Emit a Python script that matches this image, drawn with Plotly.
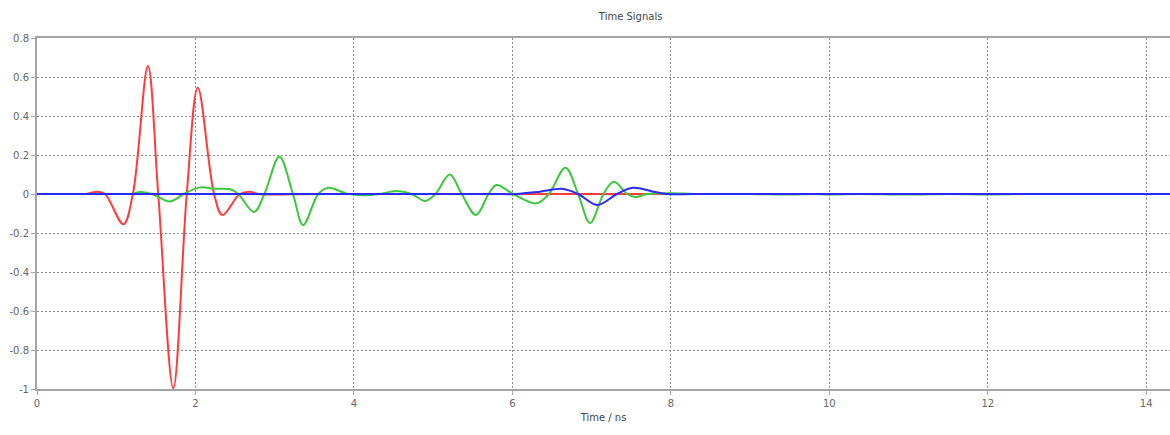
import plotly.graph_objects as go

# ---- data ----
red_t = [0.63, 0.77, 0.86, 1.09, 1.21, 1.40, 1.53, 1.72, 1.89, 2.03, 2.235, 2.34,
         2.56, 2.69, 2.79, 3.5, 5.0, 6.0, 7.0, 8.0, 9.0, 10.0, 11.0, 12.4]
red_y = [0.0, 0.012, 0.0, -0.155, 0.0, 0.656, 0.0, -0.996, 0.0, 0.545, 0.0, -0.108,
         0.0, 0.012, 0.0, 0.0, 0.0, 0.0, 0.0, 0.0, 0.0, 0.0, 0.0, 0.0]

green_t = [1.21, 1.30, 1.45, 1.68, 1.85, 2.06, 2.23, 2.44, 2.54, 2.74, 2.87, 3.06,
           3.23, 3.36, 3.55, 3.68, 3.91, 4.12, 4.33, 4.53, 4.73, 4.90, 5.03, 5.21,
           5.36, 5.54, 5.70, 5.80, 6.01, 6.30, 6.46, 6.67, 6.83, 6.98, 7.15, 7.28,
           7.45, 7.55, 7.70, 8.0, 8.3, 9.0, 9.45, 9.8, 10.0, 10.4, 11.0, 11.5,
           12.0, 12.4]
green_y = [0.0, 0.010, 0.0, -0.038, 0.0, 0.034, 0.027, 0.024, 0.0, -0.092, 0.0, 0.191,
           0.0, -0.159, 0.0, 0.032, 0.002, -0.007, 0.0, 0.015, 0.0, -0.036, 0.0, 0.100,
           0.0, -0.108, 0.0, 0.046, 0.0, -0.048, 0.0, 0.135, 0.0, -0.149, 0.0, 0.063,
           0.0, -0.016, 0.0, 0.004, 0.0, 0.0, -0.003, 0.0, -0.002, 0.0, -0.003, 0.0,
           -0.002, 0.0]

blue_t = [0.0, 5.7, 6.05, 6.35, 6.64, 6.83, 7.07, 7.32, 7.52, 7.78, 7.95, 8.3, 14.3]
blue_y = [0.0, 0.0, 0.0, 0.012, 0.026, 0.0, -0.056, 0.0, 0.032, 0.012, 0.0, 0.0, 0.0]

x_ticks = [0, 2, 4, 6, 8, 10, 12, 14]
x_tick_labels = ["0", "2", "4", "6", "8", "10", "12", "14"]
y_ticks = [0.8, 0.6, 0.4, 0.2, 0.0, -0.2, -0.4, -0.6, -0.8, -1.0]
y_tick_labels = ["0.8", "0.6", "0.4", "0.2", "0", "-0.2", "-0.4", "-0.6", "-0.8", "-1"]

fig = go.Figure()
fig.add_trace(go.Scatter(x=red_t, y=red_y, mode="lines",
                         line=dict(color="rgb(255,60,60)", width=2, shape="spline"),
                         showlegend=False))
fig.add_trace(go.Scatter(x=green_t, y=green_y, mode="lines",
                         line=dict(color="rgb(60,200,60)", width=2, shape="spline"),
                         showlegend=False))
fig.add_trace(go.Scatter(x=blue_t, y=blue_y, mode="lines",
                         line=dict(color="rgb(40,40,255)", width=2, shape="spline"),
                         showlegend=False))

font = dict(family="DejaVu Sans", size=10, color="#666666")

fig.update_layout(
    width=1170, height=435,
    margin=dict(l=37, r=0, t=38, b=46),
    paper_bgcolor="white", plot_bgcolor="white",
    font=font,
    title=dict(text="Time Signals", x=0.539, xref="container", xanchor="center",
               y=0.963, yref="container", yanchor="middle",
               font=dict(family="DejaVu Sans", size=10, color="#444444")),
)
fig.update_xaxes(
    range=[0, 14.3], tickvals=x_ticks, ticktext=x_tick_labels,
    showgrid=True, gridcolor="rgb(140,140,140)", griddash="2px,2px", gridwidth=1,
    showline=True, linecolor="rgb(165,165,165)", linewidth=2, mirror=True,
    ticks="outside", ticklen=4, tickcolor="rgb(165,165,165)",
    zeroline=False, tickfont=font,
    title=dict(text="Time / ns", font=dict(family="DejaVu Sans", size=10, color="#444444"),
               standoff=6),
)
fig.update_yaxes(
    range=[-1, 0.8], tickvals=y_ticks, ticktext=y_tick_labels,
    showgrid=True, gridcolor="rgb(140,140,140)", griddash="2px,2px", gridwidth=1,
    showline=True, linecolor="rgb(165,165,165)", linewidth=2,
    ticks="outside", ticklen=4, tickcolor="rgb(165,165,165)",
    zeroline=False, tickfont=font,
)

fig.write_html("out.html")
